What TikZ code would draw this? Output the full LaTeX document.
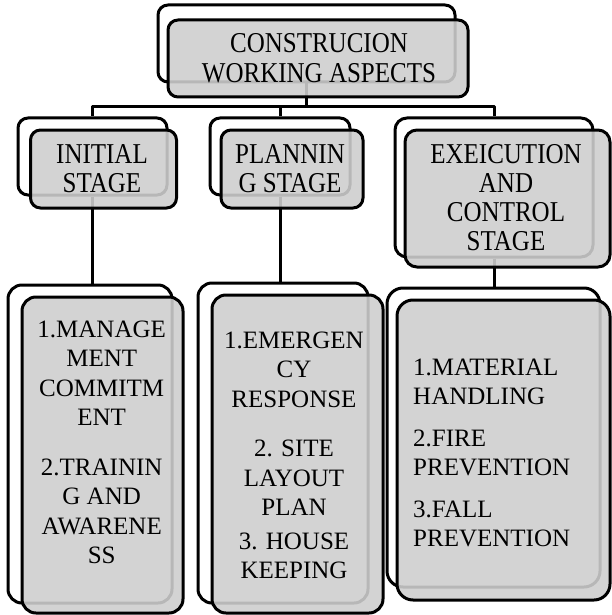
\documentclass[tikz,border=0pt]{standalone}
\usepackage{fontspec}
\setmainfont{Liberation Serif}
\usepackage{graphicx}
\newcommand\stretchtxt[1]{\scalebox{1}[1.15]{\fontsize{25}{25.5}\selectfont\begin{tabular}[t]{@{}c@{}}#1\end{tabular}}}
\newcommand\ctxt[1]{{\fontsize{25}{29.5}\selectfont\begin{tabular}[t]{@{}c@{}}#1\end{tabular}}}
\newcommand\ltxt[1]{{\fontsize{25}{29}\selectfont\begin{tabular}[t]{@{}l@{}}#1\end{tabular}}}
\begin{document}
\begin{tikzpicture}[x=1pt,y=-1pt,
  backbox/.style={draw=black, line width=3pt, fill=white, inner sep=0pt, rounded corners=#1},
  frontbox/.style={draw=black, line width=3pt, fill=boxgray, fill opacity=0.89, inner sep=0pt, rounded corners=#1},
  conn/.style={draw=black, line width=3pt, line join=round},
  txt/.style={inner sep=0pt, text=black}]
\definecolor{boxgray}{RGB}{206,206,206}
\useasboundingbox (0,0) rectangle (612,615);
% back boxes
\node[backbox=10pt, minimum width=297pt, minimum height=77pt] (topB) at (306.5,43.5) {};
\node[backbox=10pt, minimum width=149pt, minimum height=77pt] (s1B) at (92.5,156.5) {};
\node[backbox=10pt, minimum width=140pt, minimum height=77pt] (s2B) at (280,156.5) {};
\node[backbox=12pt, minimum width=198pt, minimum height=139pt] (s3B) at (494,187.5) {};
\node[backbox=14pt, minimum width=164pt, minimum height=318pt] (b1B) at (90,444) {};
\node[backbox=14pt, minimum width=170pt, minimum height=320pt] (b2B) at (283,443) {};
\node[backbox=16pt, minimum width=213pt, minimum height=299pt] (b3B) at (493.5,437.5) {};
% connectors
\coordinate (hub) at (306.5,107);
\draw[conn] (topB.south) -- (hub);
\draw[conn] (hub) -| (s1B.north);
\draw[conn] (hub) -| (s2B.north);
\draw[conn] (hub) -| (s3B.north);
\draw[conn] (s1B.south) -- (s1B.south |- b1B.north);
\draw[conn] (s2B.south) -- (s2B.south |- b2B.north);
\draw[conn] (s3B.south) -- (s3B.south |- b3B.north);
% front boxes
\node[frontbox=10pt, minimum width=300pt, minimum height=77pt] (topF) at (318,58.5) {};
\node[frontbox=10pt, minimum width=146pt, minimum height=78pt] (s1F) at (103.5,169) {};
\node[frontbox=10pt, minimum width=142pt, minimum height=78pt] (s2F) at (292,169) {};
\node[frontbox=12pt, minimum width=205pt, minimum height=137pt] (s3F) at (507.5,198.5) {};
\node[frontbox=14pt, minimum width=161pt, minimum height=316pt] (b1F) at (102.5,455) {};
\node[frontbox=14pt, minimum width=171pt, minimum height=318pt] (b2F) at (297.5,454) {};
\node[frontbox=16pt, minimum width=213pt, minimum height=300pt] (b3F) at (503.5,450) {};
% texts
\node[txt, anchor=base] (topT) at (319,53) {\stretchtxt{CONSTRUCION\\WORKING ASPECTS}};
\node[txt, anchor=base] (s1T) at (102,163) {\stretchtxt{INITIAL\\STAGE}};
\node[txt, anchor=base] (s2T) at (290,163) {\stretchtxt{PLANNIN\\G STAGE}};
\node[txt, anchor=base] (s3T) at (506,163) {\stretchtxt{EXEICUTION\\AND\\CONTROL\\STAGE}};
\node[txt, anchor=base] (b1T) at (101.7,337) {\ctxt{1.MANAGE\\MENT\\COMMITM\\ENT\\[20pt]2.TRAININ\\G AND\\AWARENE\\SS}};
\node[txt, anchor=base] (b2T) at (294,348) {\ctxt{1.EMERGEN\\CY\\RESPONSE\\[20pt]2. SITE\\LAYOUT\\PLAN\\[4pt]3. HOUSE\\KEEPING}};
\node[txt, anchor=base west] (b3T) at (413,375) {\ltxt{1.MATERIAL\\HANDLING\\[13pt]2.FIRE\\PREVENTION\\[13pt]3.FALL\\PREVENTION}};
\end{tikzpicture}
\end{document}
